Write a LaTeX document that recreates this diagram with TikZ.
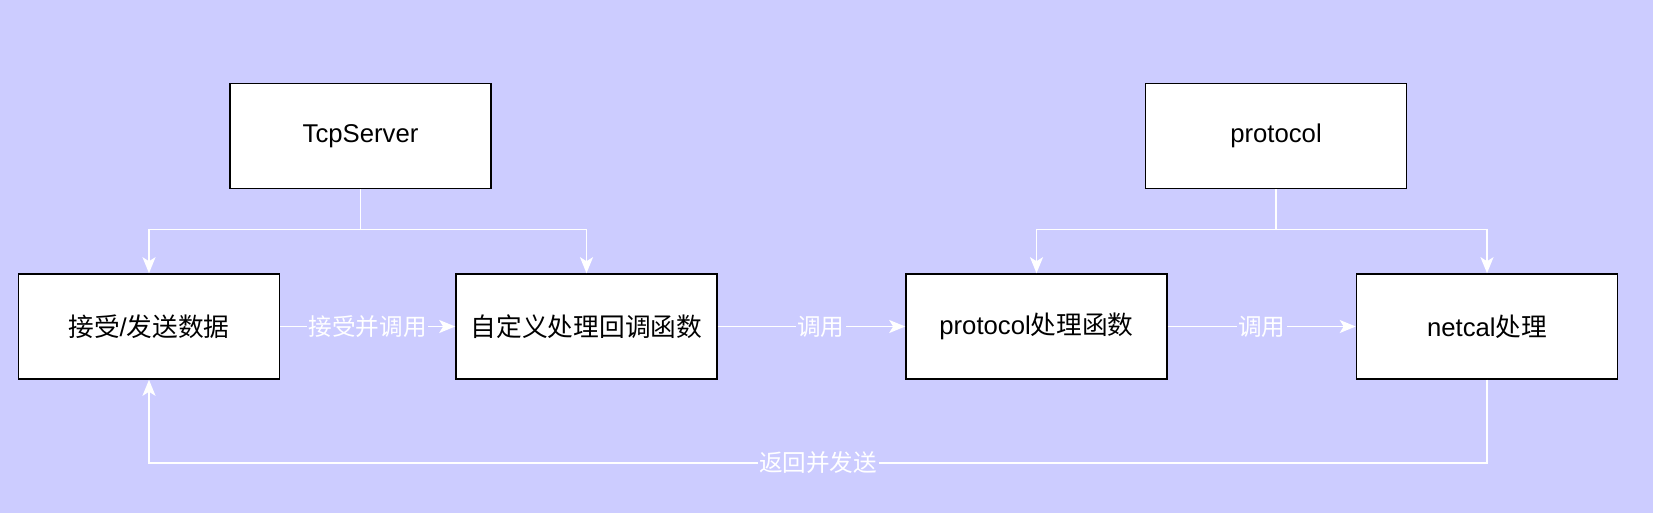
\documentclass[tikz,border=0pt]{standalone}
\usepackage{fontspec}
\setmainfont{Liberation Sans}
\newfontfamily\cjk{Noto Sans CJK SC}
\usetikzlibrary{arrows.meta}
\definecolor{bgblue}{HTML}{CCCCFF}
\begin{document}
\begin{tikzpicture}[x=1pt, y=-1pt,
  box/.style={draw=black, fill=white, line width=1.6pt, minimum width=261pt, minimum height=105pt, inner sep=0pt, font=\fontsize{25.7}{30}\selectfont},
  flow/.style={draw=white, line width=1.6pt, -{Stealth[length=16pt, width=13pt, inset=4pt]}},
  lbl/.style={fill=bgblue, text=white, inner sep=1.5pt, font=\fontsize{23.6}{28}\selectfont\cjk}]
\fill[bgblue] (0,0) rectangle (1653,513);
\node[box] (tcp) at (360.5,136) {TcpServer};
\node[box] (proto) at (1276,136) {protocol};
\node[box] (recv) at (149,326.5) {{\cjk 接受}/{\cjk 发送数据}};
\node[box] (cb) at (586.5,326.5) {\cjk 自定义处理回调函数};
\node[box] (pfun) at (1036.5,326.5) {protocol{\cjk 处理函数}};
\node[box] (netcal) at (1487,326.5) {netcal{\cjk 处理}};
\draw[flow] (tcp.south) -- ++(0,40) -| (recv);
\draw[flow] (tcp.south) -- ++(0,40) -| (cb);
\draw[flow] (proto.south) -- ++(0,40) -| (pfun);
\draw[flow] (proto.south) -- ++(0,40) -| (netcal);
\draw[flow] (recv) -- node[lbl] {接受并调用} (cb);
\draw[flow] (cb) -- node[lbl, pos=0.55] {调用} (pfun);
\draw[flow] (pfun) -- node[lbl] {调用} (netcal);
\draw[flow] (netcal.south) -- ++(0,83) -| node[lbl, pos=0.25] {返回并发送} (recv.south);
\end{tikzpicture}
\end{document}
